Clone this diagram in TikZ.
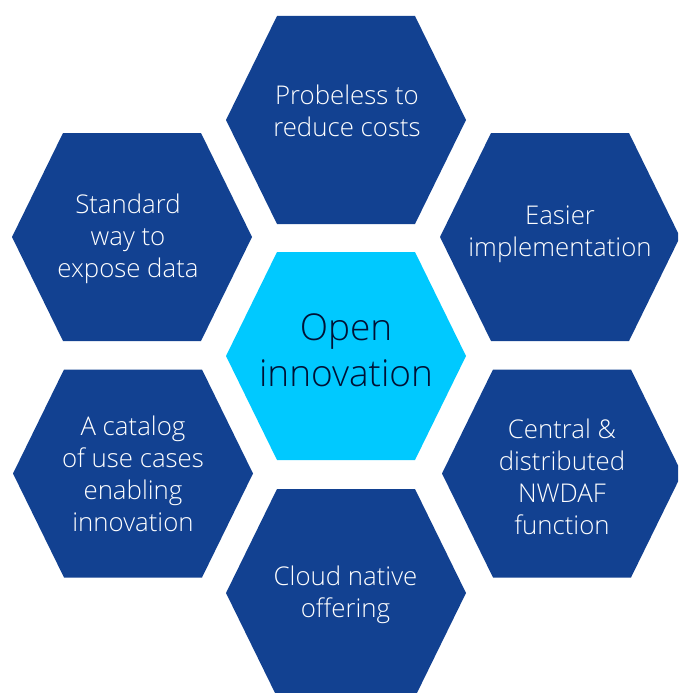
\documentclass[tikz,border=0pt]{standalone}
\usepackage{fontspec}
\setmainfont{Open Sans Light}
\definecolor{hexblue}{HTML}{124191}
\definecolor{hexcyan}{HTML}{00C9FF}
\definecolor{hexink}{HTML}{001135}
\begin{document}
\begin{tikzpicture}[x=1pt,y=-1pt,
  hexagon/.pic={\fill[pic actions] (-120,0) -- (-69,-104) -- (69,-104) -- (120,0) -- (69,104) -- (-69,104) -- cycle;},
  cell/.style={fill=hexblue},
  core/.style={fill=hexcyan},
  lbl/.style={align=center, inner sep=0pt, text=white,
    font=\fontsize{25.8}{32}\selectfont,
    execute at begin node=\rule{0pt}{20pt},
    execute at end node=\rule[-20pt]{0pt}{0pt}},
  corelbl/.style={lbl, text=hexink, font=\fontsize{37}{45.5}\selectfont}]
\useasboundingbox (0,0) rectangle (678,693);
\clip (0,0) rectangle (678,693);

% honeycomb cells
\pic[cell] at (346,120) {hexagon};
\pic[cell] at (132,237) {hexagon};
\pic[cell] at (560,237) {hexagon};
\pic[core] at (346,356) {hexagon};
\pic[cell] at (133,473.5) {hexagon};
\pic[cell] at (562,473.5) {hexagon};
\pic[cell] at (346,593) {hexagon};

% captions
\node[lbl] (probe) at (347,121) {Probeless to\\reduce costs};
\node[lbl] (expose) at (128,246) {Standard\\way to\\expose data};
\node[lbl] (easier) at (560,241.5) {Easier\\implementation};
\node[corelbl] (open) at (346,360) {Open\\innovation};
\node[lbl] (catalog) at (133,483.5) {A catalog\\of use cases\\enabling\\innovation};
\node[lbl] (nwdaf) at (562,486.5) {Central \&\\distributed\\NWDAF\\function};
\node[lbl] (cloud) at (345.5,601.8) {Cloud native\\offering};
\end{tikzpicture}
\end{document}
